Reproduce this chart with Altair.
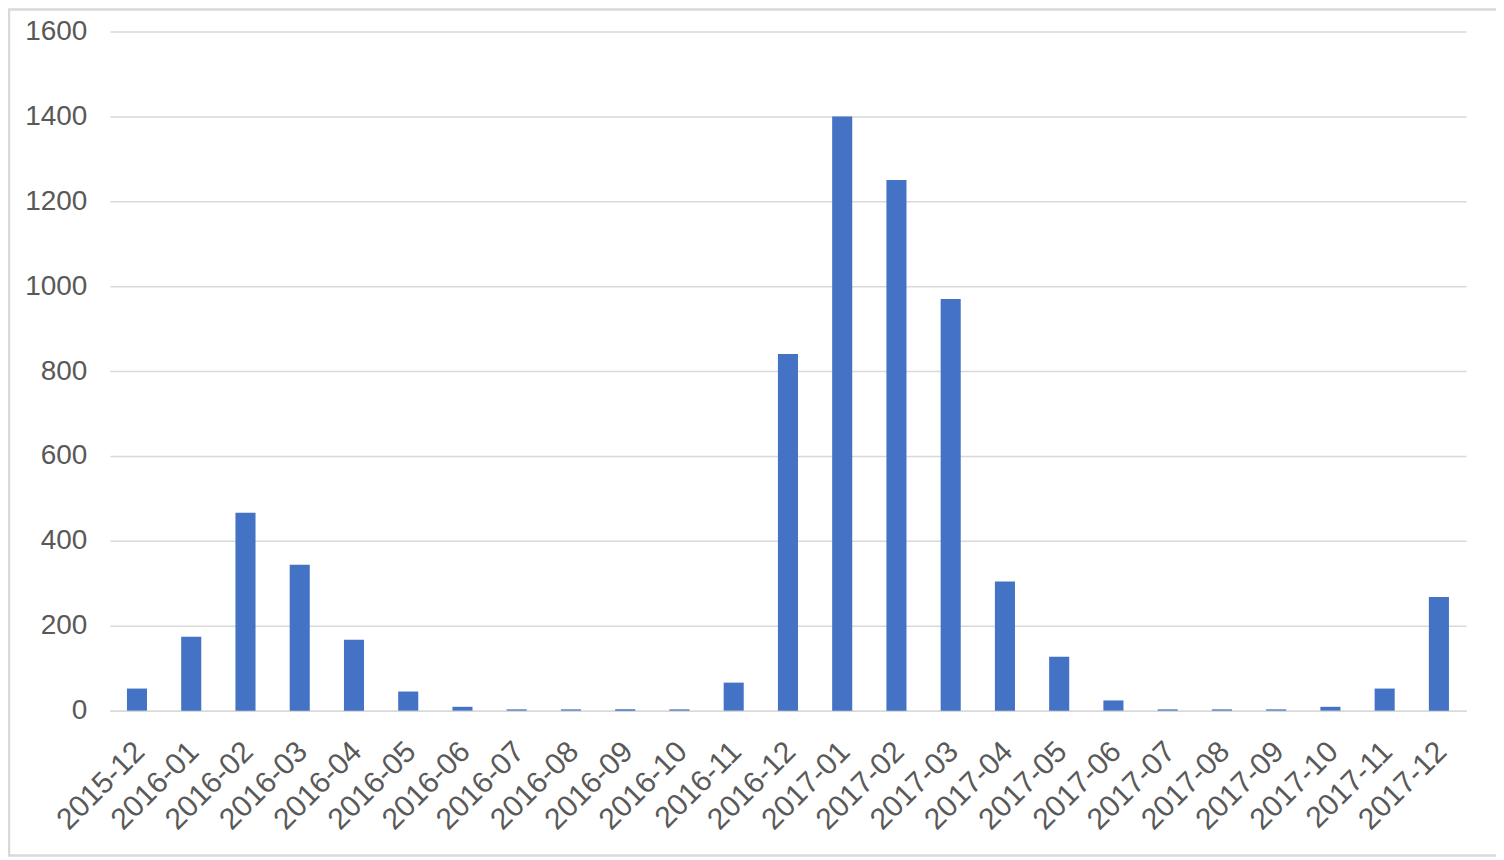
import altair as alt
import pandas as pd

months = ["2015-12", "2016-01", "2016-02", "2016-03", "2016-04", "2016-05", "2016-06",
          "2016-07", "2016-08", "2016-09", "2016-10", "2016-11", "2016-12", "2017-01",
          "2017-02", "2017-03", "2017-04", "2017-05", "2017-06", "2017-07", "2017-08",
          "2017-09", "2017-10", "2017-11", "2017-12"]
values = [52, 174, 466, 344, 167, 45, 9, 3, 3, 3, 3, 66, 840, 1400, 1250, 970, 304, 127,
          24, 3, 3, 3, 9, 52, 268]
y_ticks = [0, 200, 400, 600, 800, 1000, 1200, 1400, 1600]

df = pd.DataFrame({"month": months, "value": values})

FONT = "Liberation Sans"
W, H = 1358, 680

bars = alt.Chart(df).mark_bar(color="#4472C4").encode(
    x=alt.X("month:N", sort=months, title=None,
            scale=alt.Scale(paddingInner=0.63, paddingOuter=0.315),
            axis=alt.Axis(labelAngle=-45, labelAlign="right", labelBaseline="middle",
                          labelFont=FONT, labelFontSize=30, labelColor="#595959",
                          labelPadding=36, labelOffset=3, ticks=False,
                          domainColor="#d9d9d9", domainWidth=1.5, grid=False)),
    y=alt.Y("value:Q", title=None,
            scale=alt.Scale(domain=[0, 1600], nice=False),
            axis=alt.Axis(values=y_ticks, format="d", labelFont=FONT, labelFontSize=28,
                          labelColor="#595959", labelPadding=23, ticks=False,
                          domain=False, gridColor="#d9d9d9", gridWidth=1.5)),
)

border = alt.Chart(pd.DataFrame({"k": [0]})).mark_rect(
    fill="transparent", stroke="#d9d9d9", strokeWidth=2.5
).encode(
    x=alt.value(-101), x2=alt.value(W + 34),
    y=alt.value(-22), y2=alt.value(H + 145),
)

chart = alt.layer(bars, border).properties(
    width=W, height=H,
    background="white",
    autosize=alt.AutoSizeParams(type="none"),
    padding={"left": 102, "top": 23, "right": 30, "bottom": 150},
).configure_view(stroke="transparent", strokeWidth=0)

chart.save("out.html", embed_options={"renderer": "svg", "actions": False})
